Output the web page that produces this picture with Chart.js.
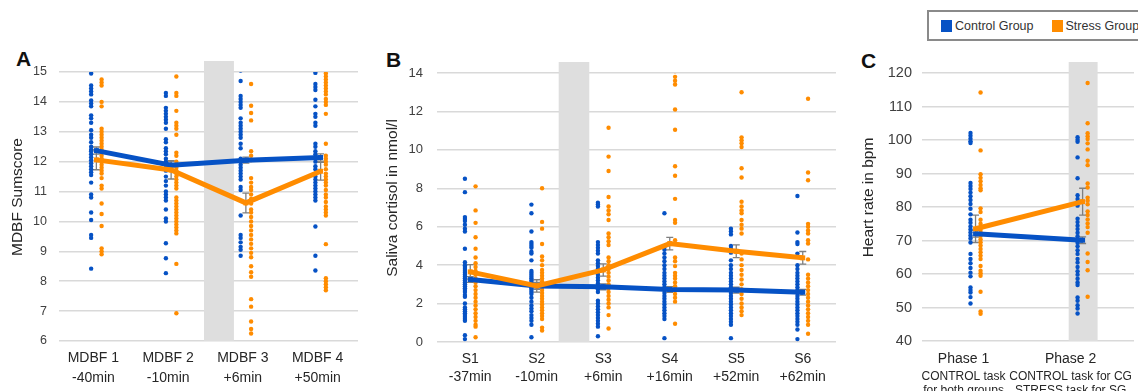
<!DOCTYPE html>
<html>
<head>
<meta charset="utf-8">
<script src="https://cdn.jsdelivr.net/npm/chart.js@4.4.1/dist/chart.umd.min.js"></script>
<style>
  body { margin: 0; width: 1138px; height: 391px; overflow: hidden; background: #fff; position: relative;
         font-family: 'Liberation Sans', Arial, sans-serif; }
  canvas, .letter, .legend { position: absolute; }
  .letter { font-weight: bold; font-size: 21px; line-height: 1; color: #111; }
  .legend { left: 927px; top: 10px; width: 240px; height: 27px; border: 2px solid #8a8a8a;
            display: flex; align-items: center; padding-left: 12px; font-size: 12.5px; color: #333; }
  .legend i { display: inline-block; width: 11px; height: 12px; margin-right: 3px; }
</style>
</head>
<body>
<div class="legend">
  <i style="background:#0652c5"></i><span>Control Group</span>
  <i style="background:#ff8c00; margin-left:18px"></i><span>Stress Group</span>
</div>
<div class="letter" style="left:16px; top:48px">A</div>
<div class="letter" style="left:386px; top:49px">B</div>
<div class="letter" style="left:861px; top:50px">C</div>
<canvas id="chart-a" width="372" height="391" style="left:0; top:0"></canvas>
<canvas id="chart-b" width="465" height="391" style="left:375px; top:0"></canvas>
<canvas id="chart-c" width="288" height="391" style="left:850px; top:0"></canvas>
<script>
// Panel A - MDBF mood scores
const mdbfLabels = [['MDBF 1', '-40min'], ['MDBF 2', '-10min'], ['MDBF 3', '+6min'], ['MDBF 4', '+50min']];
const mdbfControlMean = [12.37, 11.88, 12.05, 12.14];
const mdbfStressMean = [12.06, 11.72, 10.62, 11.68];
const mdbfControlSe = [0.12, 0.15, 0.1, 0.12];
const mdbfStressSe = [0.33, 0.3, 0.33, 0.3];
const mdbfBand = [2.44, 2.84];
const mdbfControlDots = [
  [14.95, 14.55, 14.45, 14.35, 14.25, 14.05, 13.95, 13.85, 13.55, 13.45, 13.3, 13.05, 12.9, 12.8, 12.65, 12.5, 12.4, 12.35, 12.25, 12.15, 12.05, 11.95, 11.85, 11.75, 11.65, 11.55, 11.3, 10.9, 10.8, 10.3, 10.05, 9.55, 9.45, 8.42],
  [14.3, 14.2, 13.8, 13.7, 13.6, 13.5, 13.4, 13.3, 13.1, 12.75, 12.65, 12.45, 12.35, 12.25, 12.1, 12.0, 11.9, 11.8, 11.7, 11.5, 11.35, 11.2, 11.0, 10.9, 10.8, 10.7, 10.4, 10.1, 10.0, 9.27, 8.77, 8.27],
  [15.05, 14.7, 14.2, 14.1, 14.0, 13.9, 13.8, 13.45, 13.3, 13.2, 13.1, 13.0, 12.9, 12.8, 12.6, 12.45, 12.1, 12.0, 11.9, 11.8, 11.7, 11.6, 11.5, 11.4, 11.15, 11.05, 10.2, 9.55, 9.45, 9.3, 9.15, 9.05, 8.85],
  [14.97, 14.6, 14.5, 14.4, 14.07, 13.85, 13.6, 13.5, 13.3, 13.2, 12.6, 12.5, 12.35, 12.25, 12.15, 12.0, 11.85, 11.75, 11.6, 11.5, 11.4, 11.3, 11.2, 11.1, 11.0, 10.9, 10.8, 10.7, 9.83, 8.85, 8.36]
];
const mdbfStressDots = [
  [14.75, 14.65, 14.55, 14.0, 13.85, 13.1, 13.0, 12.9, 12.8, 12.7, 12.6, 12.5, 12.4, 12.3, 12.2, 12.1, 12.0, 11.9, 11.8, 11.7, 11.6, 11.45, 11.2, 11.1, 10.6, 10.25, 9.85, 9.1, 9.0, 8.9],
  [14.85, 14.3, 14.2, 13.7, 13.3, 13.2, 13.1, 12.9, 12.3, 12.2, 12.0, 11.8, 11.7, 11.6, 11.5, 11.4, 11.3, 11.2, 11.1, 10.8, 10.7, 10.6, 10.5, 10.4, 10.3, 10.2, 10.1, 10.0, 9.9, 9.8, 9.7, 9.6, 8.58, 6.93],
  [14.6, 13.87, 13.63, 13.38, 12.35, 12.2, 12.05, 11.45, 11.3, 11.15, 11.05, 10.9, 10.75, 10.6, 10.4, 10.3, 10.15, 10.0, 9.85, 9.7, 9.55, 9.4, 9.25, 9.1, 8.95, 8.8, 8.5, 8.3, 8.15, 7.4, 7.15, 6.65, 6.4, 6.25],
  [14.95, 14.85, 14.75, 14.65, 14.55, 14.45, 14.35, 14.25, 14.1, 14.0, 13.9, 13.6, 12.6, 12.2, 12.1, 12.0, 11.9, 11.75, 11.6, 11.5, 11.4, 11.3, 11.2, 11.05, 10.9, 10.8, 10.65, 10.5, 10.4, 10.3, 10.2, 9.24, 8.1, 8.0, 7.9, 7.8, 7.7]
];

// Panel B - saliva cortisol
const cortisolLabels = [['S1', '-37min'], ['S2', '-10min'], ['S3', '+6min'], ['S4', '+16min'], ['S5', '+52min'], ['S6', '+62min']];
const cortisolControlMean = [3.25, 2.92, 2.87, 2.73, 2.7, 2.59];
const cortisolStressMean = [3.65, 2.92, 3.75, 5.12, 4.72, 4.38];
const cortisolControlSe = [0.15, 0.18, 0.15, 0.15, 0.15, 0.15];
const cortisolStressSe = [0.38, 0.32, 0.32, 0.33, 0.33, 0.33];
const cortisolBand = [2.33, 2.79];
const cortisolControlDots = [
  [8.5, 7.8, 6.5, 6.4, 6.3, 6.1, 5.9, 5.75, 4.85, 4.15, 4.0, 3.9, 3.8, 3.7, 3.6, 3.5, 3.4, 3.3, 3.2, 3.1, 3.0, 2.9, 2.8, 2.7, 2.6, 2.45, 2.35, 2.0, 1.8, 1.7, 1.6, 1.5, 1.4, 1.3, 1.2, 1.1, 0.35, 0.15],
  [7.15, 6.7, 5.75, 5.2, 5.1, 5.0, 4.9, 4.7, 4.6, 4.25, 3.7, 3.6, 3.5, 3.4, 3.3, 3.2, 3.1, 3.0, 2.9, 2.8, 2.7, 2.6, 2.5, 2.3, 2.1, 1.9, 1.75, 1.6, 1.4, 1.25, 1.1, 0.9, 0.25],
  [7.25, 7.15, 7.05, 5.2, 5.05, 4.9, 4.75, 4.6, 4.25, 4.1, 3.95, 3.8, 3.65, 3.5, 3.35, 3.2, 3.05, 2.9, 2.75, 2.6, 2.15, 2.0, 1.85, 1.7, 1.55, 1.4, 1.25, 1.1, 0.95, 0.8, 0.3],
  [6.7, 4.95, 4.8, 4.6, 4.4, 4.2, 4.0, 3.8, 3.6, 3.45, 3.3, 3.15, 3.0, 2.85, 2.7, 2.55, 2.4, 2.25, 2.1, 1.95, 1.8, 1.65, 1.5, 1.35, 1.2, 0.2],
  [5.9, 5.75, 5.6, 5.0, 4.85, 4.65, 4.25, 4.0, 3.8, 3.6, 3.45, 3.3, 3.15, 3.0, 2.85, 2.7, 2.55, 2.4, 2.25, 2.1, 1.95, 1.8, 1.65, 1.5, 1.35, 1.2, 1.05, 0.9, 0.2],
  [7.6, 5.7, 5.2, 5.1, 4.6, 4.45, 4.0, 3.8, 3.6, 3.45, 3.3, 3.15, 3.0, 2.85, 2.7, 2.55, 2.4, 2.25, 2.1, 1.95, 1.8, 1.65, 1.5, 1.35, 1.2, 1.05, 0.9, 0.65, 0.15]
];
const cortisolStressDots = [
  [8.1, 6.85, 6.2, 5.45, 4.85, 4.4, 4.1, 3.9, 3.7, 3.5, 3.3, 3.1, 2.9, 2.7, 2.5, 2.3, 2.1, 1.9, 1.7, 1.5, 1.3, 1.1, 0.9, 0.8, 0.25],
  [8.0, 6.25, 5.9, 5.1, 4.45, 4.25, 4.0, 3.75, 3.6, 3.45, 3.3, 3.15, 3.0, 2.85, 2.7, 2.55, 2.4, 2.25, 2.1, 1.95, 1.8, 1.65, 1.5, 1.35, 1.2, 0.75, 0.6],
  [11.15, 9.65, 8.9, 7.55, 7.05, 6.85, 6.65, 6.35, 5.65, 5.45, 5.25, 5.05, 4.4, 4.2, 4.0, 3.8, 3.6, 3.4, 3.2, 3.0, 2.8, 2.6, 2.4, 2.2, 2.0, 1.8, 1.4, 0.7],
  [14.1, 13.8, 13.6, 13.4, 12.1, 11.05, 9.15, 8.65, 7.45, 6.35, 6.2, 5.3, 4.4, 4.2, 3.95, 3.6, 3.45, 3.3, 3.1, 2.9, 2.7, 2.5, 2.3, 2.1, 0.95],
  [13.0, 10.65, 10.5, 10.35, 10.15, 9.04, 8.56, 7.3, 7.05, 6.85, 6.7, 6.35, 6.1, 5.9, 5.65, 4.6, 4.3, 4.0, 3.75, 3.5, 3.25, 3.0, 2.75, 2.5, 2.25, 2.0, 1.8, 1.6, 1.4],
  [12.66, 8.82, 8.42, 6.15, 6.0, 5.8, 5.65, 5.3, 5.13, 4.3, 3.5, 3.3, 3.1, 2.9, 2.7, 2.5, 2.3, 2.1, 1.9, 1.7, 1.5, 1.3, 1.1, 0.9, 0.43]
];

// Panel C - heart rate
const heartLabels = ['Phase 1', 'Phase 2'];
const heartSubLabels = [['CONTROL task', 'for both groups'], ['CONTROL task for CG', 'STRESS task for SG']];
const heartControlMean = [72.0, 70.1];
const heartStressMean = [73.5, 81.6];
const heartControlSe = [1.0, 1.0];
const heartStressSe = [4.1, 4.0];
const heartBand = [1.87, 2.14];
const heartControlDots = [
  [102.1, 101.3, 100.4, 99.6, 99.1, 87.2, 86.3, 85.4, 84.3, 83.2, 82.1, 80.9, 79.5, 77.8, 76.2, 75.3, 74.2, 73.3, 72.4, 71.5, 70.6, 69.4, 66.0, 64.5, 63.2, 61.8, 60.4, 59.3, 56.0, 55.2, 54.5, 53.1, 51.2],
  [100.8, 100.1, 99.5, 94.8, 88.6, 83.5, 82.4, 81.4, 80.4, 76.5, 75.5, 74.4, 73.4, 72.3, 71.3, 70.1, 69.3, 68.3, 67.1, 66.0, 64.5, 63.4, 62.1, 60.8, 59.8, 58.6, 57.5, 56.7, 53.0, 52.0, 50.7, 49.7, 48.2]
];
const heartStressDots = [
  [114.2, 96.9, 89.8, 88.7, 87.7, 86.6, 85.6, 85.0, 79.6, 78.5, 76.2, 75.0, 74.0, 73.2, 72.4, 71.4, 70.4, 69.5, 68.5, 67.5, 66.5, 65.5, 64.5, 62.4, 61.0, 60.2, 59.5, 54.7, 48.8, 48.1],
  [117.0, 105.0, 102.0, 101.1, 100.3, 99.0, 97.2, 93.8, 92.5, 87.0, 85.8, 82.8, 81.9, 80.8, 78.7, 77.6, 76.3, 75.1, 74.0, 72.3, 66.1, 63.6, 61.1, 53.2]
];

const BLUE = '#0652c5';
const ORANGE = '#ff8c00';
const FONT = "'Liberation Sans', Arial, sans-serif";
Chart.defaults.font.family = FONT;
Chart.defaults.color = '#404040';

// stress period shading + error bars under the data, y title sits a bit above centre
const panelExtras = {
  id: 'panelExtras',
  beforeDatasetsDraw(chart, args, opts) {
    const { ctx, chartArea } = chart;
    const xs = chart.scales.x, ys = chart.scales.y;
    const x0 = xs.getPixelForValue(opts.band[0]);
    const x1 = xs.getPixelForValue(opts.band[1]);
    ctx.save();
    ctx.fillStyle = '#dedede';
    ctx.fillRect(x0, chartArea.top - opts.overhang, x1 - x0, chartArea.bottom - chartArea.top + opts.overhang);

    ctx.strokeStyle = '#7f7f7f';
    ctx.lineWidth = 1.3;
    opts.errors.forEach(err => {
      err.mean.forEach((m, i) => {
        const x = xs.getPixelForValue(i + 1);
        const yTop = ys.getPixelForValue(m + err.se[i]);
        const yBot = ys.getPixelForValue(m - err.se[i]);
        ctx.beginPath();
        ctx.moveTo(x, yTop); ctx.lineTo(x, yBot);
        ctx.moveTo(x - 3.5, yTop); ctx.lineTo(x + 3.5, yTop);
        ctx.moveTo(x - 3.5, yBot); ctx.lineTo(x + 3.5, yBot);
        ctx.stroke();
      });
    });
    ctx.restore();
  },
  afterDraw(chart, args, opts) {
    const { ctx, chartArea } = chart;
    const ys = chart.scales.y;
    ctx.save();
    ctx.translate(ys.left + opts.titleX, (chartArea.top + chartArea.bottom) / 2 - opts.titleShift);
    ctx.rotate(-Math.PI / 2);
    ctx.textAlign = 'center';
    ctx.textBaseline = 'middle';
    ctx.font = '15.5px ' + FONT;
    ctx.fillStyle = '#262626';
    ctx.fillText(opts.title, 0, 0);
    ctx.restore();
  }
};

function dotData(columns, offset) {
  return columns.flatMap((vals, i) => vals.map(v => ({ x: i + 1 + offset, y: v })));
}

function meanData(means) {
  return means.map((v, i) => ({ x: i + 1, y: v }));
}

function categoryAxis(labels, max, height, padding, font, weight, labelOffset) {
  return {
    type: 'linear',
    position: 'bottom',
    weight: weight,
    min: 0.5,
    max: max,
    afterBuildTicks: s => { s.ticks = labels.map((_, i) => ({ value: i + 1 })); },
    afterFit: s => { s.height = height; s.paddingLeft = 0; s.paddingRight = 0; },
    grid: { display: false, drawTicks: false },
    border: { display: false },
    ticks: {
      autoSkip: false, minRotation: 0, maxRotation: 0, labelOffset: labelOffset,
      padding: padding, color: '#262626', font: font,
      callback: v => labels[Math.round(v) - 1] ?? ''
    }
  };
}

function makePanel(id, p) {
  const scales = {
    x: categoryAxis(p.labels, p.xMax, p.xHeight, p.xPadding, p.xFont, 0, p.labelOffset),
    y: {
      min: p.yMin, max: p.yMax,
      afterFit: s => { s.width = p.yWidth; s.paddingTop = 0; s.paddingBottom = 0; },
      grid: { color: '#d9d9d9', lineWidth: 1.5, drawTicks: false },
      border: { display: false },
      ticks: { stepSize: p.yStep, padding: p.yPadding, color: '#404040', font: { size: p.yTickSize } }
    }
  };
  if (p.subLabels) {
    scales.x2 = categoryAxis(p.subLabels, p.xMax, p.x2Height, p.x2Padding, { size: 12, lineHeight: 14 / 12 }, 1, p.labelOffset);
  }

  return new Chart(document.getElementById(id), {
    type: 'scatter',
    data: {
      datasets: [
        { data: meanData(p.stressMean), showLine: true, borderColor: ORANGE, backgroundColor: ORANGE,
          borderWidth: 5, pointStyle: 'rect', pointRadius: 3.5, pointBorderWidth: 0 },
        { data: meanData(p.controlMean), showLine: true, borderColor: BLUE, backgroundColor: BLUE,
          borderWidth: 5, pointStyle: 'rect', pointRadius: 3.5, pointBorderWidth: 0 },
        { data: dotData(p.stressDots, p.dotOffset), backgroundColor: ORANGE, pointRadius: 2.2, pointBorderWidth: 0 },
        { data: dotData(p.controlDots, -p.dotOffset), backgroundColor: BLUE, pointRadius: 2.2, pointBorderWidth: 0 }
      ]
    },
    options: {
      responsive: false,
      animation: false,
      devicePixelRatio: 1,
      layout: { padding: { top: p.padTop, right: p.padRight, left: 0, bottom: 0 } },
      scales: scales,
      plugins: {
        legend: { display: false },
        tooltip: { enabled: false },
        panelExtras: {
          band: p.band,
          overhang: 11,
          title: p.yTitle,
          titleX: p.titleX,
          titleShift: 9.5,
          errors: [
            { mean: p.stressMean, se: p.stressSe },
            { mean: p.controlMean, se: p.controlSe }
          ]
        }
      }
    },
    plugins: [panelExtras]
  });
}

makePanel('chart-a', {
  labels: mdbfLabels, xMax: 4.5, xHeight: 50, xPadding: 7, xFont: { size: 14, lineHeight: 20 / 14 }, labelOffset: -3,
  yMin: 6, yMax: 15, yStep: 1, yWidth: 59, yPadding: 12, yTickSize: 12.5, yTitle: 'MDBF Sumscore', titleX: 18,
  padTop: 72, padRight: 14, band: mdbfBand, dotOffset: 0.07,
  controlMean: mdbfControlMean, stressMean: mdbfStressMean, controlSe: mdbfControlSe, stressSe: mdbfStressSe,
  controlDots: mdbfControlDots, stressDots: mdbfStressDots
});

makePanel('chart-b', {
  labels: cortisolLabels, xMax: 6.5, xHeight: 49, xPadding: 8, xFont: { size: 14, lineHeight: 18 / 14 }, labelOffset: 0,
  yMin: 0, yMax: 14, yStep: 2, yWidth: 62, yPadding: 14, yTickSize: 13, yTitle: 'Saliva cortisol in nmol/l', titleX: 18,
  padTop: 73, padRight: 4, band: cortisolBand, dotOffset: 0.08,
  controlMean: cortisolControlMean, stressMean: cortisolStressMean, controlSe: cortisolControlSe, stressSe: cortisolStressSe,
  controlDots: cortisolControlDots, stressDots: cortisolStressDots
});

makePanel('chart-c', {
  labels: heartLabels, subLabels: heartSubLabels, xMax: 2.48, xHeight: 26, xPadding: 10, xFont: { size: 14, lineHeight: 1.2 }, labelOffset: -12,
  x2Height: 24, x2Padding: 2.5,
  yMin: 40, yMax: 120, yStep: 10, yWidth: 72, yPadding: 10, yTickSize: 14.5, yTitle: 'Heart rate in bpm', titleX: 19,
  padTop: 73, padRight: 0, band: heartBand, dotOffset: 0.047,
  controlMean: heartControlMean, stressMean: heartStressMean, controlSe: heartControlSe, stressSe: heartStressSe,
  controlDots: heartControlDots, stressDots: heartStressDots
});
</script>
</body>
</html>
